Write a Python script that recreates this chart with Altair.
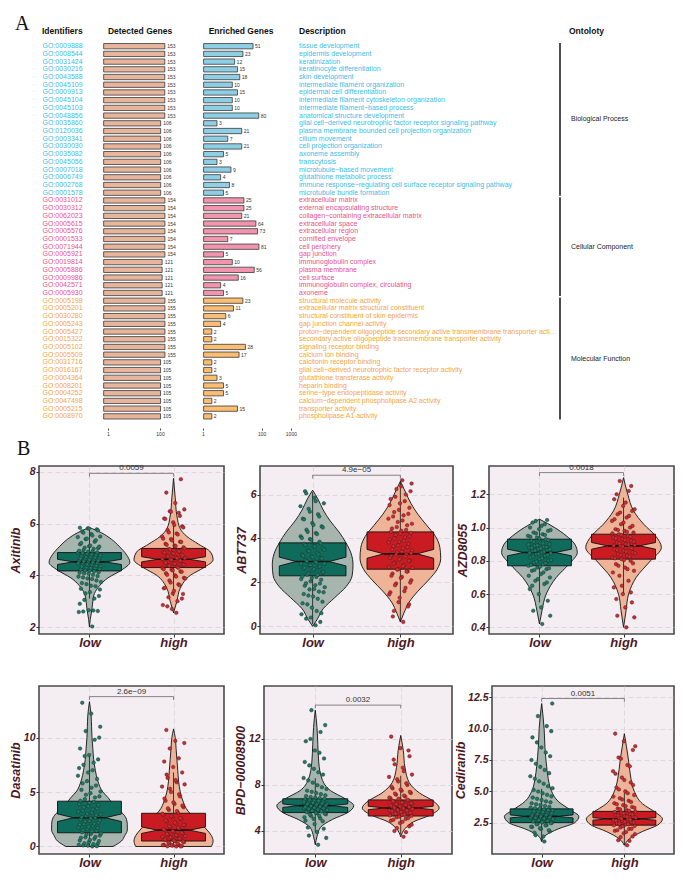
import altair as alt
import pandas as pd

FONT = "Liberation Sans"
SERIF = "Liberation Serif"
MAROON = "#4d1824"
GRID = "#d9d0d8"

# ---------------- Panel A data ----------------
go_ids = [
    "GO:0009888", "GO:0008544", "GO:0031424", "GO:0030216", "GO:0043588", "GO:0045109",
    "GO:0009913", "GO:0045104", "GO:0045103", "GO:0048856", "GO:0035860", "GO:0120036",
    "GO:0003341", "GO:0030030", "GO:0035082", "GO:0045056", "GO:0007018", "GO:0006749",
    "GO:0002768", "GO:0001578",
    "GO:0031012", "GO:0030312", "GO:0062023", "GO:0005615", "GO:0005576", "GO:0001533",
    "GO:0071944", "GO:0005921", "GO:0019814", "GO:0005886", "GO:0009986", "GO:0042571",
    "GO:0005930",
    "GO:0005198", "GO:0005201", "GO:0030280", "GO:0005243", "GO:0005427", "GO:0015322",
    "GO:0005102", "GO:0005509", "GO:0031716", "GO:0016167", "GO:0004364", "GO:0008201",
    "GO:0004252", "GO:0047498", "GO:0005215", "GO:0008970",
]
descriptions = [
    "tissue development", "epidermis development", "keratinization",
    "keratinocyte differentiation", "skin development", "intermediate filament organization",
    "epidermal cell differentiation", "intermediate filament cytoskeleton organization",
    "intermediate filament−based process", "anatomical structure development",
    "glial cell−derived neurotrophic factor receptor signaling pathway",
    "plasma membrane bounded cell projection organization", "cilium movement",
    "cell projection organization", "axoneme assembly", "transcytosis",
    "microtubule−based movement", "glutathione metabolic process",
    "immune response−regulating cell surface receptor signaling pathway",
    "microtubule bundle formation",
    "extracellular matrix", "external encapsulating structure",
    "collagen−containing extracellular matrix", "extracellular space", "extracellular region",
    "cornified envelope", "cell periphery", "gap junction", "immunoglobulin complex",
    "plasma membrane", "cell surface", "immunoglobulin complex, circulating", "axoneme",
    "structural molecule activity", "extracellular matrix structural constituent",
    "structural constituent of skin epidermis", "gap junction channel activity",
    "proton−dependent oligopeptide secondary active transmembrane transporter activity",
    "secondary active oligopeptide transmembrane transporter activity",
    "signaling receptor binding", "calcium ion binding", "calcitonin receptor binding",
    "glial cell−derived neurotrophic factor receptor activity",
    "glutathione transferase activity", "heparin binding", "serine−type endopeptidase activity",
    "calcium−dependent phospholipase A2 activity", "transporter activity",
    "phospholipase A1 activity",
]
detected_genes = [153] * 10 + [106] * 10 + [154] * 8 + [121] * 5 + [155] * 8 + [105] * 8
enriched_genes = [51, 23, 12, 15, 18, 10, 15, 10, 10, 80, 3, 21, 7, 21, 5, 3, 9, 4, 8, 5,
                  25, 25, 21, 64, 73, 7, 81, 5, 10, 56, 16, 4, 5,
                  23, 11, 6, 4, 2, 2, 28, 17, 2, 2, 3, 5, 5, 2, 15, 2]
ontology_names = ["Biological Process", "Cellular Component", "Molecular Function"]
ontology_sizes = [20, 13, 16]
ontology_text_colors = ["#40bde5", "#e9528c", "#f4a53f"]
ontology_bar_colors = ["#8ecfe6", "#f294ad", "#fbbd72"]

# ---------------- Panel B data ----------------
drugs = ["Axitinib", "ABT737", "AZD8055", "Dasatinib", "BPD−00008900", "Cediranib"]
p_values = ["0.0059", "4.9e−05", "0.0018", "2.6e−09", "0.0032", "0.0051"]
y_domains = [[1.73, 8.23], [-0.35, 7.3], [0.36, 1.37], [-0.69, 14.74], [2.0, 16.6], [0.0, 13.4]]
y_ticks = [[2, 4, 6, 8], [0, 2, 4, 6], [0.4, 0.6, 0.8, 1.0, 1.2], [0, 5, 10], [4, 8, 12],
           [2.5, 5.0, 7.5, 10.0, 12.5]]
y_formats = ["d", "d", ".1f", "d", "d", ".1f"]

axitinib_low = [2.02, 2.6, 2.62, 2.65, 2.9, 3.1, 3.3, 3.45, 3.6, 3.7, 3.8, 3.88, 3.95, 4.02,
                4.08, 4.12, 4.18, 4.22, 4.27, 4.3, 4.35, 4.4, 4.44, 4.48, 4.52, 4.55, 4.58,
                4.62, 4.66, 4.7, 4.74, 4.78, 4.83, 4.88, 4.93, 4.98, 5.05, 5.12, 5.2, 5.3,
                5.4, 5.5, 5.6, 5.7, 5.78, 5.82,
                2.58, 2.64, 3.05, 3.2, 3.35, 3.48, 3.58, 3.66, 3.74, 3.86, 3.92, 3.97, 4.06,
                4.1, 4.16, 4.19, 4.25, 4.28, 4.34, 4.37, 4.42, 4.47, 4.5, 4.54, 4.57, 4.6,
                4.65, 4.68, 4.71, 4.77, 4.8, 4.86, 4.89, 4.92, 4.95, 5.03, 5.07, 5.11, 5.15,
                5.25, 5.36, 5.42, 5.48, 5.54, 5.65, 5.74, 5.81, 5.84]
axitinib_high = [2.55, 2.8, 3.1, 3.3, 3.5, 3.65, 3.8, 3.9, 4.0, 4.08, 4.15, 4.22, 4.28, 4.33,
                 4.38, 4.43, 4.48, 4.53, 4.58, 4.62, 4.66, 4.7, 4.75, 4.8, 4.85, 4.9, 4.96,
                 5.02, 5.08, 5.15, 5.22, 5.3, 5.4, 5.5, 5.62, 5.75, 5.9, 6.05, 6.2, 6.42, 6.48,
                 6.55, 6.8, 7.2, 7.72,
                 2.7, 2.85, 3.0, 3.15, 3.28, 3.4, 3.52, 3.62, 3.72, 3.88, 3.95, 4.02, 4.14,
                 4.19, 4.24, 4.29, 4.37, 4.41, 4.45, 4.49, 4.56, 4.6, 4.63, 4.66, 4.73, 4.77,
                 4.84, 4.88, 4.92, 5.0, 5.04, 5.13, 5.18, 5.29, 5.35, 5.42, 5.58, 5.66, 5.85,
                 5.95, 6.18, 6.3, 6.46]
abt737_low = [0.05, 0.35, 0.6, 0.85, 1.05, 1.25, 1.4, 1.55, 1.7, 1.85, 1.95, 2.05, 2.15, 2.25,
              2.35, 2.45, 2.55, 2.62, 2.7, 2.78, 2.86, 2.94, 3.02, 3.1, 3.18, 3.26, 3.35, 3.45,
              3.55, 3.65, 3.75, 3.85, 3.97, 4.1, 4.25, 4.4, 4.55, 4.7, 4.9, 5.1, 5.35, 5.6,
              5.85, 6.15,
              0.2, 0.4, 0.55, 0.7, 1.0, 1.12, 1.36, 1.47, 1.58, 1.68, 1.78, 1.87, 1.96, 2.12,
              2.2, 2.27, 2.34, 2.41, 2.48, 2.61, 2.67, 2.73, 2.79, 2.85, 2.91, 2.97, 3.09,
              3.15, 3.21, 3.28, 3.42, 3.49, 3.63, 3.7, 3.78, 3.94, 4.02, 4.2, 4.3, 4.5, 4.62,
              4.87, 5.0, 5.22, 5.47, 5.7, 6.05]
abt737_high = [0.2, 0.7, 1.0, 1.3, 1.55, 1.75, 1.95, 2.1, 2.25, 2.4, 2.5, 2.6, 2.7, 2.8, 2.9,
               3.0, 3.1, 3.2, 3.28, 3.36, 3.45, 3.55, 3.65, 3.75, 3.85, 3.95, 4.05, 4.15, 4.25,
               4.35, 4.45, 4.6, 4.75, 4.9, 5.05, 5.2, 5.4, 5.6, 5.8, 6.0, 6.25, 6.5, 6.65,
               0.45, 0.9, 1.1, 1.45, 1.6, 1.87, 1.99, 2.2, 2.3, 2.49, 2.58, 2.66, 2.74, 2.86,
               2.98, 3.05, 3.12, 3.19, 3.26, 3.33, 3.4, 3.5, 3.61, 3.68, 3.82, 3.9, 4.0,
               4.1, 4.22, 4.3, 4.39, 4.52, 4.67, 4.82, 5.0, 5.12, 5.3, 5.52, 5.7, 5.9, 6.15,
               6.38]
azd8055_low = [0.42, 0.5, 0.56, 0.6, 0.63, 0.66, 0.68, 0.7, 0.72, 0.74, 0.75, 0.76, 0.77, 0.78,
               0.79, 0.8, 0.81, 0.82, 0.83, 0.84, 0.845, 0.85, 0.86, 0.865, 0.87, 0.88, 0.885,
               0.89, 0.9, 0.91, 0.92, 0.93, 0.94, 0.95, 0.96, 0.97, 0.98, 0.99, 1.0, 1.02, 1.04,
               0.47, 0.52, 0.65, 0.67, 0.69, 0.71, 0.73, 0.745, 0.755, 0.765, 0.775, 0.785,
               0.795, 0.805, 0.815, 0.825, 0.835, 0.842, 0.848, 0.855, 0.862, 0.868, 0.875,
               0.878, 0.883, 0.893, 0.897, 0.905, 0.915, 0.925, 0.935, 0.945, 0.955, 0.965,
               0.985, 1.01, 1.03, 1.045]
azd8055_high = [0.4, 0.47, 0.55, 0.6, 0.64, 0.68, 0.71, 0.74, 0.76, 0.78, 0.8, 0.81, 0.82, 0.83,
                0.84, 0.85, 0.86, 0.87, 0.88, 0.89, 0.895, 0.9, 0.91, 0.92, 0.93, 0.94, 0.95,
                0.96, 0.97, 0.98, 0.99, 1.0, 1.02, 1.04, 1.06, 1.08, 1.1, 1.13, 1.17, 1.22, 1.28,
                0.46, 0.52, 0.57, 0.61, 0.65, 0.73, 0.75, 0.77, 0.785, 0.805, 0.815, 0.825,
                0.835, 0.845, 0.855, 0.865, 0.875, 0.885, 0.892, 0.898, 0.905, 0.915, 0.925,
                0.935, 0.945, 0.955, 0.965, 0.975, 0.985, 1.01, 1.03, 1.05, 1.07, 1.09, 1.11,
                1.15, 1.2, 1.25]
dasatinib_low = [0.0, 0.1, 0.25, 0.4, 0.55, 0.7, 0.85, 1.0, 1.15, 1.3, 1.45, 1.6, 1.75, 1.9,
                 2.05, 2.2, 2.35, 2.5, 2.65, 2.8, 2.95, 3.1, 3.3, 3.5, 3.7, 3.9, 4.1, 4.35, 4.6,
                 4.9, 5.2, 5.6, 6.0, 6.5, 7.0, 7.5, 8.0, 8.4, 9.0, 9.8, 10.6, 11.0, 12.2, 13.2,
                 0.03, 0.08, 0.15, 0.22, 0.3, 0.5, 0.6, 0.8, 0.9, 1.1, 1.2, 1.4, 1.5, 1.7, 1.8,
                 2.0, 2.1, 2.3, 2.4, 2.6, 2.7, 2.9, 3.0, 3.2, 3.4, 3.6, 3.8, 4.0, 4.2, 4.5, 4.75,
                 5.05, 5.4, 5.8, 6.2, 6.8, 7.2, 7.7, 8.3, 10.0]
dasatinib_high = [0.0, 0.02, 0.05, 0.1, 0.15, 0.2, 0.3, 0.4, 0.5, 0.6, 0.7, 0.8, 0.9, 1.0, 1.1,
                  1.2, 1.35, 1.5, 1.65, 1.8, 1.95, 2.1, 2.3, 2.5, 2.7, 2.9, 3.1, 3.35, 3.6, 3.9,
                  4.2, 4.6, 5.0, 5.5, 5.9, 6.3, 6.8, 7.3, 7.8, 8.1, 9.0, 9.5, 9.7, 10.7,
                  0.0, 0.08, 0.12, 0.25, 0.36, 0.45, 0.55, 0.65, 0.74, 0.85, 0.95, 1.05, 1.15,
                  1.26, 1.42, 1.58, 1.72, 1.88, 2.0, 2.2, 2.4, 2.6, 2.8, 3.0, 3.25, 3.5, 3.75,
                  4.05, 4.4, 4.8, 5.3, 5.7, 6.1, 6.6]
bpd_low = [2.8, 3.6, 4.2, 4.6, 4.9, 5.1, 5.3, 5.45, 5.55, 5.65, 5.75, 5.85, 5.95, 6.0, 6.05,
           6.1, 6.15, 6.2, 6.25, 6.3, 6.35, 6.42, 6.5, 6.58, 6.66, 6.75, 6.85, 6.95, 7.1, 7.3,
           7.5, 7.8, 8.2, 8.6, 9.1, 9.7, 10.3, 11.0, 11.8, 12.6, 14.5,
           3.4, 3.9, 4.3, 4.85, 5.05, 5.2, 5.32, 5.42, 5.5, 5.57, 5.64, 5.7, 5.76, 5.82, 5.87,
           5.92, 5.97, 6.02, 6.07, 6.12, 6.17, 6.21, 6.28, 6.33, 6.4, 6.45, 6.55, 6.62, 6.7,
           6.8, 6.9, 7.03, 7.2, 7.4, 7.65, 7.98, 8.4, 8.9, 9.4, 10.0, 10.8, 12.0, 13.2]
bpd_high = [3.5, 4.0, 4.4, 4.7, 4.9, 5.05, 5.2, 5.3, 5.4, 5.5, 5.6, 5.7, 5.78, 5.86, 5.94, 6.0,
            6.06, 6.12, 6.2, 6.28, 6.36, 6.45, 6.55, 6.65, 6.75, 6.85, 7.0, 7.15, 7.3, 7.5, 7.7,
            8.0, 8.3, 8.7, 9.2, 9.8, 10.5, 11.2, 12.2,
            3.9, 4.25, 4.55, 4.8, 4.98, 5.12, 5.24, 5.34, 5.43, 5.51, 5.58, 5.65, 5.72, 5.79,
            5.85, 5.91, 5.97, 6.03, 6.09, 6.15, 6.21, 6.27, 6.34, 6.41, 6.48, 6.6, 6.71, 6.8,
            6.9, 7.08, 7.25, 7.4, 7.6, 7.85, 8.15, 8.5, 8.9, 9.5, 10.2, 11.0]
cediranib_low = [1.0, 1.5, 1.8, 2.0, 2.15, 2.3, 2.4, 2.5, 2.58, 2.66, 2.74, 2.82, 2.9, 2.96,
                 3.02, 3.08, 3.15, 3.22, 3.3, 3.38, 3.46, 3.55, 3.65, 3.75, 3.9, 4.05, 4.2, 4.4,
                 4.6, 4.85, 5.1, 5.4, 5.8, 6.2, 6.7, 7.2, 7.8, 8.5, 9.3, 10.2, 11.0, 12.0,
                 1.4, 1.7, 1.9, 2.05, 2.18, 2.28, 2.37, 2.45, 2.52, 2.59, 2.63, 2.7, 2.78, 2.84,
                 2.88, 2.93, 2.99, 3.05, 3.11, 3.18, 3.25, 3.34, 3.41, 3.5, 3.6, 3.7, 3.83, 3.97,
                 4.12, 4.3, 4.5, 4.72, 4.98, 5.25, 5.6, 6.0, 6.45, 6.95, 7.5, 8.1, 8.9, 9.8]
cediranib_high = [0.7, 1.1, 1.4, 1.65, 1.85, 2.0, 2.12, 2.24, 2.35, 2.45, 2.55, 2.63, 2.71,
                  2.79, 2.87, 2.95, 3.03, 3.11, 3.2, 3.3, 3.4, 3.5, 3.62, 3.75, 3.9, 4.05, 4.25,
                  4.45, 4.7, 5.0, 5.3, 5.7, 6.1, 6.6, 7.1, 7.7, 8.3, 9.0, 9.6,
                  1.05, 1.35, 1.58, 1.76, 1.9, 2.02, 2.21, 2.29, 2.37, 2.42, 2.51, 2.58, 2.66,
                  2.74, 2.82, 2.9, 2.98, 3.06, 3.15, 3.24, 3.35, 3.45, 3.56, 3.68, 3.82, 3.97,
                  4.15, 4.35, 4.58, 4.85, 5.15, 5.5, 5.9, 6.4, 7.0, 7.6, 8.6]

# violin outlines: (value, half-width in group units)
axitinib_violin_low = [(2.0, 0), (2.3, 0.01), (2.7, 0.03), (3.0, 0.04), (3.3, 0.06), (3.6, 0.12),
                       (3.9, 0.22), (4.2, 0.38), (4.5, 0.48), (4.8, 0.44), (5.1, 0.36),
                       (5.4, 0.26), (5.65, 0.14), (5.85, 0)]
axitinib_violin_high = [(2.55, 0), (3.0, 0.04), (3.5, 0.08), (4.0, 0.2), (4.3, 0.36), (4.6, 0.47),
                        (4.9, 0.44), (5.2, 0.3), (5.5, 0.16), (5.8, 0.08), (6.3, 0.04), (7.0, 0.02),
                        (7.75, 0)]
abt737_violin_low = [(0.0, 0), (0.3, 0.05), (0.8, 0.12), (1.3, 0.25), (1.8, 0.38), (2.3, 0.45),
                     (2.8, 0.46), (3.3, 0.44), (3.8, 0.38), (4.3, 0.3), (4.8, 0.2), (5.3, 0.12),
                     (5.8, 0.06), (6.2, 0)]
abt737_violin_high = [(0.2, 0), (0.6, 0.04), (1.1, 0.1), (1.6, 0.2), (2.1, 0.32), (2.6, 0.42),
                      (3.1, 0.46), (3.6, 0.45), (4.1, 0.4), (4.6, 0.3), (5.1, 0.2), (5.6, 0.12),
                      (6.1, 0.06), (6.6, 0)]
azd8055_violin_low = [(0.42, 0), (0.5, 0.03), (0.6, 0.08), (0.7, 0.2), (0.78, 0.35), (0.85, 0.45),
                      (0.9, 0.42), (0.95, 0.32), (1.0, 0.18), (1.05, 0)]
azd8055_violin_high = [(0.4, 0), (0.5, 0.03), (0.6, 0.06), (0.7, 0.15), (0.8, 0.32), (0.88, 0.45),
                       (0.95, 0.38), (1.02, 0.24), (1.1, 0.12), (1.2, 0.05), (1.3, 0)]
dasatinib_violin_low = [(0, 0.28), (0.5, 0.38), (1, 0.42), (1.5, 0.45), (2, 0.45), (2.5, 0.44),
                        (3, 0.4), (3.5, 0.33), (4, 0.27), (4.5, 0.22), (5, 0.16), (6, 0.1),
                        (7, 0.07), (8, 0.05), (9, 0.04), (10, 0.03), (11, 0.025), (12, 0.02),
                        (13.3, 0)]
dasatinib_violin_high = [(0, 0.45), (0.5, 0.47), (1, 0.45), (1.5, 0.4), (2, 0.34), (2.5, 0.27),
                         (3, 0.2), (3.5, 0.15), (4, 0.12), (5, 0.08), (6, 0.06), (7, 0.05),
                         (8, 0.04), (9, 0.03), (10, 0.02), (10.8, 0)]
bpd_violin_low = [(2.8, 0), (3.5, 0.02), (4.3, 0.06), (5.0, 0.2), (5.6, 0.38), (6.2, 0.45),
                  (6.8, 0.35), (7.5, 0.18), (8.5, 0.08), (10, 0.04), (11.5, 0.03), (13, 0.02),
                  (14.5, 0)]
bpd_violin_high = [(3.5, 0), (4.2, 0.05), (4.8, 0.15), (5.4, 0.35), (6.0, 0.45), (6.6, 0.38),
                   (7.3, 0.22), (8.2, 0.1), (9.5, 0.05), (11, 0.03), (12.3, 0)]
cediranib_violin_low = [(1.0, 0), (1.5, 0.05), (2.0, 0.2), (2.5, 0.4), (3.0, 0.45), (3.5, 0.35),
                        (4.2, 0.2), (5, 0.12), (6, 0.08), (7, 0.06), (8.5, 0.04), (10, 0.03),
                        (12, 0)]
cediranib_violin_high = [(0.7, 0), (1.2, 0.06), (1.8, 0.22), (2.3, 0.4), (2.8, 0.46), (3.3, 0.38),
                         (4, 0.22), (5, 0.12), (6, 0.08), (7.5, 0.05), (9.6, 0)]

# box stats per group: (q1, median, q3, notch half-range, lower whisker, upper whisker)
axitinib_box = [(4.17, 4.52, 4.88, 0.1, 3.1, 5.82), (4.3, 4.62, 5.04, 0.1, 3.2, 6.1)]
abt737_box = [(2.3, 2.95, 3.8, 0.2, 0.1, 6.1), (2.6, 3.3, 4.3, 0.2, 0.2, 6.6)]
azd8055_box = [(0.77, 0.85, 0.93, 0.02, 0.55, 1.05), (0.81, 0.89, 0.96, 0.02, 0.6, 1.18)]
dasatinib_box = [(1.26, 2.64, 4.16, 0.35, 0.0, 8.5), (0.5, 1.5, 3.05, 0.3, 0.0, 6.8)]
bpd_box = [(5.6, 6.2, 6.8, 0.15, 3.9, 8.6), (5.3, 6.0, 6.7, 0.15, 3.7, 8.8)]
cediranib_box = [(2.5, 3.0, 3.6, 0.12, 1.0, 5.2), (2.3, 2.8, 3.4, 0.1, 0.7, 4.9)]

groups = ["low", "high"]
violin_colors = ["#a6b6af", "#efb398"]
box_colors = ["#0f6b5c", "#cb1b22"]
point_colors = ["#1a7c65", "#d9272d"]

# ---------------- Panel A chart ----------------
# panel A's origin is aligned with the left edge of the first violin panel
WA, HA = 620, 420
ROW0, PITCH = 34.0, 7.9

onto_col = []
for name, n in zip(ontology_names, ontology_sizes):
    onto_col += [name] * n
rows = pd.DataFrame({
    "idx": list(range(len(go_ids))), "go": go_ids, "desc": descriptions,
    "det": detected_genes, "enr": enriched_genes, "onto": onto_col,
})
starts, ends, mids, pos = [], [], [], 0
for n in ontology_sizes:
    starts.append(pos - 0.4)
    ends.append(pos + n - 0.6)
    mids.append(pos + (n - 1) / 2)
    pos += n
onto_df = pd.DataFrame({"name": ontology_names, "s": starts, "e": ends, "m": mids})

d0 = -ROW0 / PITCH
ysA = alt.Scale(domain=[d0, d0 + HA / PITCH], reverse=True, nice=False, zero=False)
YA = alt.Y("idx:Q", scale=ysA, axis=None)


def log_scale(one_px, per_decade):
    lo = -one_px / per_decade
    hi = (WA - one_px) / per_decade
    return alt.Scale(type="log", domain=[10 ** lo, 10 ** hi], nice=False, zero=False)


det_scale = log_scale(69, 26)
enr_scale = log_scale(164, 29.3)

txt_color = alt.Color("onto:N", scale=alt.Scale(domain=ontology_names, range=ontology_text_colors), legend=None)
bar_color = alt.Color("onto:N", scale=alt.Scale(domain=ontology_names, range=ontology_bar_colors), legend=None)


def small_axis(vals):
    return alt.Axis(orient="bottom", values=vals, format="d", title=None, grid=False, domain=False,
                    ticks=True, tickSize=2, tickColor="#444", labelFont=FONT, labelFontSize=5,
                    labelColor="#333", labelPadding=1)


def label(text, x, y, size=8.5, weight="bold", font=FONT, align="left"):
    return alt.Chart(pd.DataFrame({"t": [text]})).mark_text(
        align=align, baseline="alphabetic", fontSize=size, fontWeight=weight, font=font, color="#111"
    ).encode(x=alt.value(x), y=alt.value(y), text="t:N")


ids_layer = alt.Chart(rows).mark_text(align="left", baseline="middle", fontSize=7, font=FONT).encode(
    x=alt.value(3.5), y=YA, text="go:N", color=txt_color)
desc_layer = alt.Chart(rows).mark_text(align="left", baseline="middle", fontSize=7, font=FONT,
                                       limit=260, ellipsis="").encode(
    x=alt.value(260), y=YA, text="desc:N", color=txt_color)
det_bar = alt.Chart(rows).mark_bar(size=5.3, fill="#e7b49c", stroke="#3a3a3a", strokeWidth=0.8).encode(
    x=alt.X("det:Q", scale=det_scale, axis=small_axis([1, 100])), x2=alt.X2Datum(0.68), y=YA)
det_txt = alt.Chart(rows).mark_text(align="left", baseline="middle", dx=2.5, fontSize=5, font=FONT,
                                    color="#333").encode(
    x=alt.X("det:Q", scale=det_scale, axis=None), y=YA, text="det:Q")
enr_bar = alt.Chart(rows).mark_bar(size=5.3, stroke="#3a3a3a", strokeWidth=0.8).encode(
    x=alt.X("enr:Q", scale=enr_scale, axis=small_axis([1, 100, 1000])), x2=alt.X2Datum(1.05), y=YA,
    color=bar_color)
enr_txt = alt.Chart(rows).mark_text(align="left", baseline="middle", dx=2, fontSize=5, font=FONT,
                                    color="#333").encode(
    x=alt.X("enr:Q", scale=enr_scale, axis=None), y=YA, text="enr:Q")
onto_rule = alt.Chart(onto_df).mark_rule(strokeWidth=1.5, color="#111").encode(
    x=alt.value(521), y=alt.Y("s:Q", scale=ysA, axis=None), y2="e:Q")
onto_txt = alt.Chart(onto_df).mark_text(align="left", baseline="middle", fontSize=7, font=FONT,
                                        color="#222").encode(
    x=alt.value(532), y=alt.Y("m:Q", scale=ysA, axis=None), text="name:N")

panelA = alt.layer(
    label("A", -24, 22, size=20, weight="normal", font=SERIF),
    label("Identifiers", 3, 26),
    label("Detected Genes", 101, 26, align="center"),
    label("Enriched Genes", 202, 26, align="center"),
    label("Description", 260, 26),
    label("Ontoloty", 530, 26),
    ids_layer, desc_layer, det_bar, det_txt, enr_bar, enr_txt, onto_rule, onto_txt,
).resolve_scale(x="independent", color="independent").properties(width=WA, height=HA)


# ---------------- Panel B charts ----------------
def violin_panel(name, pval, lows, highs, vlow, vhigh, boxes, ydom, yticks, yfmt, w, h, tpad,
                 tag=None):
    xs = alt.Scale(domain=[0.4, 2.6], nice=False, zero=False)
    ys = alt.Scale(domain=ydom, nice=False, zero=False)
    xax = alt.Axis(values=[1, 2], labelExpr="datum.value == 1 ? 'low' : 'high'", title=None,
                   grid=True, gridColor=GRID, gridDash=[5, 3], gridWidth=0.8, domain=False,
                   tickColor="#333", tickSize=3, labelFont=FONT, labelFontSize=13,
                   labelFontWeight="bold", labelFontStyle="italic", labelColor=MAROON,
                   labelPadding=-1)
    yax = alt.Axis(values=yticks, format=yfmt, title=name, grid=True, gridColor=GRID,
                   gridDash=[5, 3], gridWidth=0.8, domain=False, tickColor="#333", tickSize=3,
                   labelFont=FONT, labelFontSize=10.5, labelFontWeight="bold",
                   labelFontStyle="italic", labelColor=MAROON, labelPadding=1,
                   titleFont=FONT, titleFontSize=12.5, titleFontWeight="bold",
                   titleFontStyle="italic", titleColor=MAROON, titlePadding=tpad)

    def X(f):
        return alt.X(f, scale=xs, axis=xax)

    def Y(f):
        return alt.Y(f, scale=ys, axis=yax)

    vrows = []
    for gi, prof in enumerate([vlow, vhigh]):
        for (yv, wv) in prof:
            vrows.append({"grp": groups[gi], "g": gi + 1, "y": yv, "w": wv})
    vdf = pd.DataFrame(vrows)

    bw = 0.38
    brows, mrows, wrows = [], [], []
    for gi, (q1, med, q3, nt, wlo, whi) in enumerate(boxes):
        for yv, wv in [(q1, bw), (med - nt, bw), (med, bw / 2), (med + nt, bw), (q3, bw)]:
            brows.append({"grp": groups[gi], "g": gi + 1, "y": yv, "w": wv})
        mrows.append({"g": gi + 1, "med": med, "w": bw / 2})
        wrows.append({"g": gi + 1, "y1": q3, "y2": whi})
        wrows.append({"g": gi + 1, "y1": wlo, "y2": q1})
    bdf, mdf, wdf = pd.DataFrame(brows), pd.DataFrame(mrows), pd.DataFrame(wrows)

    pdf = pd.DataFrame({"grp": ["low"] * len(lows) + ["high"] * len(highs),
                        "g": [1] * len(lows) + [2] * len(highs),
                        "val": list(lows) + list(highs)})
    top = max(max(lows), max(highs), max(v for v, _ in vlow), max(v for v, _ in vhigh))
    rng = ydom[1] - ydom[0]
    by = top + 0.03 * rng
    brk = pd.DataFrame({"x1": [1], "x2": [2], "y": [by], "xm": [1.5], "p": [pval]})
    legs = pd.DataFrame({"g": [1, 2], "y1": [by, by], "y2": [by - 0.02 * rng] * 2})

    violin = alt.Chart(vdf).transform_calculate(xl="datum.g - datum.w", xr="datum.g + datum.w").mark_area(
        orient="horizontal", interpolate="monotone", stroke="#111", strokeWidth=0.9).encode(
        x=X("xl:Q"), x2="xr:Q", y=Y("y:Q"),
        color=alt.Color("grp:N", scale=alt.Scale(domain=groups, range=violin_colors), legend=None))
    whisk = alt.Chart(wdf).mark_rule(color="#111", strokeWidth=0.8).encode(
        x=X("g:Q"), y=Y("y1:Q"), y2="y2:Q")
    box = alt.Chart(bdf).transform_calculate(xl="datum.g - datum.w", xr="datum.g + datum.w").mark_area(
        orient="horizontal", interpolate="linear", stroke="#111", strokeWidth=0.9).encode(
        x=X("xl:Q"), x2="xr:Q", y=Y("y:Q"),
        color=alt.Color("grp:N", scale=alt.Scale(domain=groups, range=box_colors), legend=None))
    median = alt.Chart(mdf).transform_calculate(xl="datum.g - datum.w", xr="datum.g + datum.w").mark_rule(
        color="#111", strokeWidth=1.6).encode(x=X("xl:Q"), x2="xr:Q", y=Y("med:Q"))
    pts = alt.Chart(pdf).transform_window(rn="row_number()", groupby=["grp"]).transform_calculate(
        jx="datum.g + (((datum.rn * 0.6180339887) % 1) - 0.5) * 0.28").mark_point(
        filled=True, size=13, stroke="#1e1e1e", strokeWidth=0.4, opacity=1).encode(
        x=X("jx:Q"), y=Y("val:Q"),
        color=alt.Color("grp:N", scale=alt.Scale(domain=groups, range=point_colors), legend=None))
    bline = alt.Chart(brk).mark_rule(color="#555", strokeWidth=0.7).encode(
        x=X("x1:Q"), x2="x2:Q", y=Y("y:Q"))
    blegs = alt.Chart(legs).mark_rule(color="#555", strokeWidth=0.7).encode(
        x=X("g:Q"), y=Y("y1:Q"), y2="y2:Q")
    btxt = alt.Chart(brk).mark_text(fontSize=8, dy=-5, color="#333", font=FONT).encode(
        x=X("xm:Q"), y=Y("y:Q"), text="p:N")

    layers = [violin, whisk, box, median, pts, bline, blegs, btxt]
    if tag:
        layers.append(label(tag, -22, -11, size=20, weight="normal", font=SERIF))
    return alt.layer(*layers).resolve_scale(color="independent").properties(
        width=w, height=h,
        view=alt.ViewBackground(fill="#f4eef3", stroke="#4a4a4a", strokeWidth=1.6))


point_sets = [(axitinib_low, axitinib_high), (abt737_low, abt737_high), (azd8055_low, azd8055_high),
              (dasatinib_low, dasatinib_high), (bpd_low, bpd_high), (cediranib_low, cediranib_high)]
violin_sets = [(axitinib_violin_low, axitinib_violin_high), (abt737_violin_low, abt737_violin_high),
               (azd8055_violin_low, azd8055_violin_high), (dasatinib_violin_low, dasatinib_violin_high),
               (bpd_violin_low, bpd_violin_high), (cediranib_violin_low, cediranib_violin_high)]
box_sets = [axitinib_box, abt737_box, azd8055_box, dasatinib_box, bpd_box, cediranib_box]
widths = [185, 193, 185, 185, 188, 182]
heights = [168, 168, 168, 168, 168, 168]
title_pads = [7, 2, 1, 1, 1, 0]

panels = []
for i in range(6):
    panels.append(violin_panel(drugs[i], p_values[i], point_sets[i][0], point_sets[i][1],
                               violin_sets[i][0], violin_sets[i][1], box_sets[i],
                               y_domains[i], y_ticks[i], y_formats[i], widths[i], heights[i],
                               title_pads[i], tag="B" if i == 0 else None))

row1 = alt.hconcat(*panels[:3], spacing=36, bounds="flush")
row2 = alt.hconcat(*panels[3:], spacing=40, bounds="flush")
panelB = alt.vconcat(row1, row2, spacing=35)

chart = alt.vconcat(panelA, panelB, spacing=2).properties(padding=0).configure_view(stroke=None)

chart.save("out.html", embed_options={"renderer": "svg", "actions": False})
